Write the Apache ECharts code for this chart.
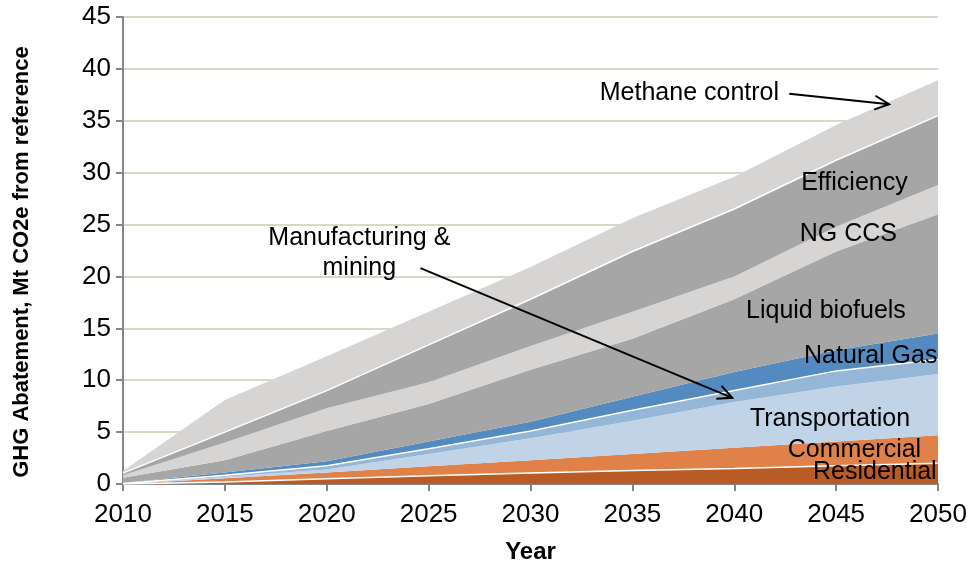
<!DOCTYPE html>
<html>
<head>
<meta charset="utf-8">
<title>GHG Abatement</title>
<script src="https://cdn.jsdelivr.net/npm/echarts@6/dist/echarts.min.js"></script>
<style>
  html, body { margin: 0; padding: 0; background: #fff; }
  #main { width: 973px; height: 563px; }
</style>
</head>
<body>
<div id="main"></div>
<script>
// years on the x axis
var years = ['2010', '2015', '2020', '2025', '2030', '2035', '2040', '2045', '2050'];

// abatement per measure, Mt CO2e (stacked, bottom first)
var residential    = [0, 0.2, 0.5, 0.8, 1.05, 1.3, 1.5, 1.75, 2.0];
var commercial     = [0, 0.35, 0.6, 0.9, 1.25, 1.6, 2.0, 2.35, 2.7];
var transportation = [0.02, 0.15, 0.3, 1.2, 2.1, 3.2, 4.4, 5.3, 5.9];
var manufacturing  = [0.02, 0.15, 0.35, 0.5, 0.7, 1.0, 1.1, 1.5, 1.4];
var naturalGas     = [0.06, 0.25, 0.45, 0.7, 0.9, 1.3, 1.8, 2.0, 2.5];
var liquidBiofuels = [0.5, 1.2, 2.9, 3.6, 5.0, 5.6, 7.0, 9.5, 11.5];
var ngCcs          = [0.25, 1.7, 2.2, 2.1, 2.3, 2.6, 2.2, 2.4, 2.8];
var efficiency     = [0.2, 1.0, 1.7, 3.6, 4.5, 5.8, 6.5, 6.4, 6.7];
var methaneControl = [0.2, 3.1, 3.3, 3.2, 3.1, 3.2, 3.1, 3.4, 3.4];

var yTicks = [0, 5, 10, 15, 20, 25, 30, 35, 40, 45];

var layers = [
  { name: 'Residential', data: residential, color: '#b95b24', edge: true },
  { name: 'Commercial', data: commercial, color: '#e0814a', edge: false },
  { name: 'Transportation', data: transportation, color: '#c1d4e7', edge: false },
  { name: 'Manufacturing & mining', data: manufacturing, color: '#96b6d7', edge: true },
  { name: 'Natural Gas', data: naturalGas, color: '#538abf', edge: false },
  { name: 'Liquid biofuels', data: liquidBiofuels, color: '#a6a6a6', edge: false },
  { name: 'NG CCS', data: ngCcs, color: '#d7d4d4', edge: false },
  { name: 'Efficiency', data: efficiency, color: '#a6a6a6', edge: true },
  { name: 'Methane control', data: methaneControl, color: '#d7d4d4', edge: false }
];

// annotation texts, placed in data coordinates [year, value]
var notes = [
  { text: 'Methane control', at: [2037.8, 37.7] },
  { text: 'Efficiency', at: [2045.9, 29.0] },
  { text: 'NG CCS', at: [2045.6, 24.1] },
  { text: 'Manufacturing &', at: [2021.6, 23.7] },
  { text: 'mining', at: [2021.6, 20.8] },
  { text: 'Liquid biofuels', at: [2044.5, 16.7] },
  { text: 'Natural Gas', at: [2046.7, 12.3] },
  { text: 'Transportation', at: [2044.7, 6.3] },
  { text: 'Commercial', at: [2045.9, 3.3] },
  { text: 'Residential', at: [2046.9, 1.15] }
];
var arrows = [
  { from: [2042.7, 37.6], to: [2047.6, 36.6] },
  { from: [2024.6, 20.8], to: [2039.9, 8.3] }
];

var FONT = '"Liberation Sans", Arial, sans-serif';
var chart = echarts.init(document.getElementById('main'));

var series = layers.map(function (l) {
  return {
    name: l.name,
    type: 'line',
    stack: 'total',
    symbol: 'none',
    silent: true,
    data: l.data,
    lineStyle: { width: l.edge ? 1.5 : 0, color: '#ffffff' },
    areaStyle: { color: l.color, opacity: 1 },
    z: 2
  };
});

chart.setOption({
  animation: false,
  backgroundColor: '#ffffff',
  grid: { left: 123, right: 35, top: 17, bottom: 79, outerBoundsMode: 'none' },
  xAxis: [{
    type: 'category',
    data: years,
    boundaryGap: false,
    name: 'Year',
    nameLocation: 'middle',
    nameGap: 56,
    nameTextStyle: { fontFamily: FONT, fontSize: 24, fontWeight: 'bold', color: '#000' },
    axisLine: { lineStyle: { color: '#868686', width: 2 } },
    axisTick: { show: true, length: 7, alignWithLabel: true, lineStyle: { color: '#868686', width: 2 } },
    axisLabel: { fontFamily: FONT, fontSize: 26, color: '#000', margin: 18, interval: 0 },
    splitLine: { show: false }
  }, {
    // hidden helper axis for placing annotations in year units
    type: 'value',
    min: 2010,
    max: 2050,
    interval: 5,
    show: false
  }],
  yAxis: {
    type: 'value',
    min: yTicks[0],
    max: yTicks[yTicks.length - 1],
    interval: 5,
    axisLine: { show: true, lineStyle: { color: '#868686', width: 2 } },
    axisTick: { show: true, length: 7, lineStyle: { color: '#868686', width: 2 } },
    axisLabel: { fontFamily: FONT, fontSize: 26, color: '#000', margin: 12 },
    splitLine: { show: true, lineStyle: { color: '#d5d9c8', width: 2 } }
  },
  series: series
});

// annotations and arrows
function px(p) { return chart.convertToPixel({ xAxisIndex: 1, yAxisIndex: 0 }, p); }

var graphics = [];
notes.forEach(function (n) {
  var p = px(n.at);
  graphics.push({
    type: 'text', x: p[0], y: p[1], z: 10,
    style: {
      text: n.text, fill: '#000', font: '25px ' + FONT,
      textAlign: 'center', textVerticalAlign: 'middle'
    }
  });
});
arrows.forEach(function (a) {
  var p0 = px(a.from), p1 = px(a.to);
  var ang = Math.atan2(p1[1] - p0[1], p1[0] - p0[0]);
  var hl = 16, hw = 0.45;
  graphics.push({
    type: 'line', z: 11,
    shape: { x1: p0[0], y1: p0[1], x2: p1[0], y2: p1[1] },
    style: { stroke: '#000', lineWidth: 2 }
  });
  graphics.push({
    type: 'polyline', z: 11,
    shape: { points: [
      [p1[0] - hl * Math.cos(ang - hw), p1[1] - hl * Math.sin(ang - hw)],
      [p1[0], p1[1]],
      [p1[0] - hl * Math.cos(ang + hw), p1[1] - hl * Math.sin(ang + hw)]
    ] },
    style: { stroke: '#000', lineWidth: 2, fill: null }
  });
});
// y axis title
graphics.push({
  type: 'text', x: 22, y: 262, rotation: Math.PI / 2, z: 10,
  style: {
    text: 'GHG Abatement, Mt CO2e from reference', fill: '#000',
    font: 'bold 22px ' + FONT, textAlign: 'center', textVerticalAlign: 'middle'
  }
});
chart.setOption({ graphic: graphics });

window.onresize = function () {
  chart.resize();
};
</script>
</body>
</html>
